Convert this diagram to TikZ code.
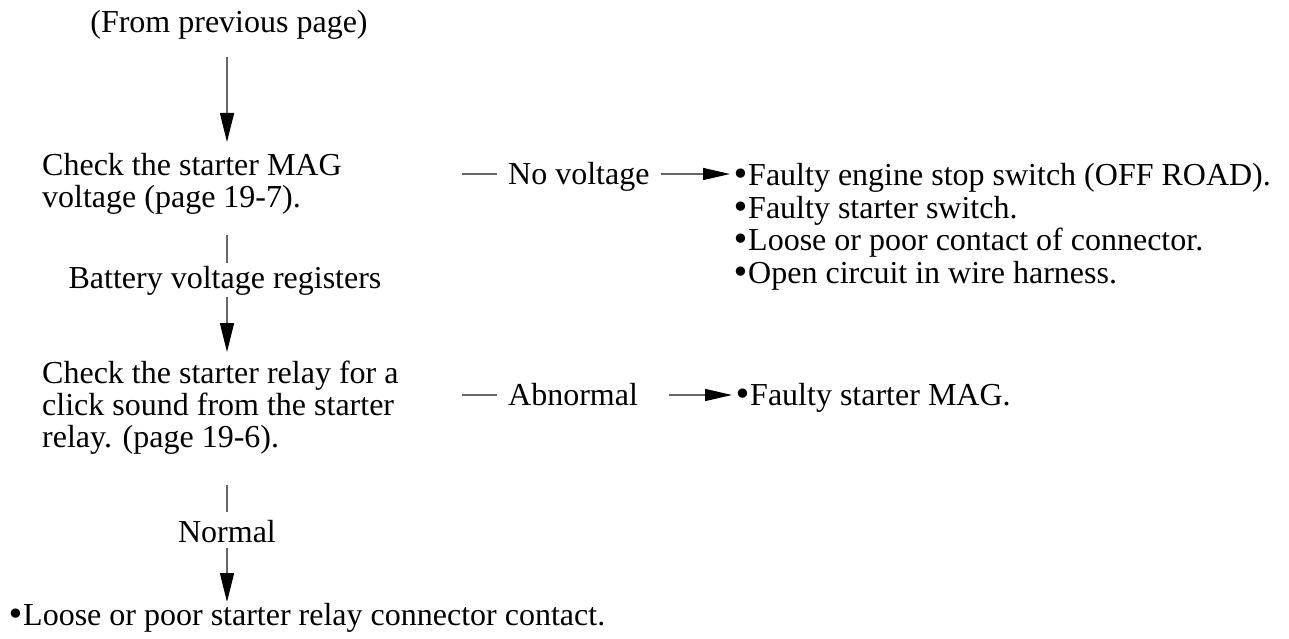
\documentclass[tikz,border=0pt]{standalone}
\usepackage{fontspec}
\setmainfont{Liberation Serif}
\newfontfamily\bulfont{DejaVu Sans}
\usetikzlibrary{arrows.meta}
\newcommand\bul{{\bulfont\kern-0.05em•\kern-0.07em}}
\begin{document}
\begin{tikzpicture}[x=1pt,y=-1pt,
  txt/.style={inner sep=0pt, font=\fontsize{32}{32}\selectfont, align=left},
  lst/.style={inner sep=0pt, font=\fontsize{32}{32.5}\selectfont, align=left},
  ln/.style={draw=black!60, line width=1.3pt},
  varr/.style={ln, -{Triangle[length=29pt,width=14pt,black]}},
  harr/.style={ln, -{Triangle[length=27pt,width=12pt,black]}}]
\useasboundingbox (0,0) rectangle (1289,639);
% texts (base anchor = baseline of the last line)
\node[txt,anchor=base] (from) at (229,33) {(From previous page)};
\node[txt,anchor=base west] (check1) at (42,207) {Check the starter MAG\\voltage (page 19-7).};
\node[txt,anchor=base west] (novolt) at (508,184) {No voltage};
\node[lst,anchor=base west] (list1) at (733,283) {\bul Faulty engine stop switch (OFF ROAD).\\\bul Faulty starter switch.\\\bul Loose or poor contact of connector.\\\bul Open circuit in wire harness.};
\node[txt,anchor=base] (batt) at (225,288) {Battery voltage registers};
\node[txt,anchor=base west] (check2) at (42,447) {Check the starter relay for a\\click sound from the starter\\relay. (page 19-6).};
\node[txt,anchor=base west] (abn) at (508,405) {Abnormal};
\node[txt,anchor=base west] (mag) at (735,405) {\bul Faulty starter MAG.};
\node[txt,anchor=base] (normal) at (227,542) {Normal};
\node[txt,anchor=base west] (loose) at (8,625) {\bul Loose or poor starter relay connector contact.};
% connector end points
\coordinate (a1s) at (227,57);
\coordinate (a1e) at (227,142);
\coordinate (a2s) at (227,235);
\coordinate (a2m) at (227,263);
\coordinate (a2n) at (227,297);
\coordinate (a2e) at (227,352);
\coordinate (a3s) at (227,485);
\coordinate (a3m) at (227,512);
\coordinate (a3n) at (227,548);
\coordinate (a3e) at (227,602);
\coordinate (n1s) at (462,174);
\coordinate (n1m) at (497,174);
\coordinate (n1n) at (661,174);
\coordinate (n1e) at (730,174);
\coordinate (b1s) at (462,395);
\coordinate (b1m) at (497,395);
\coordinate (b1n) at (669,395);
\coordinate (b1e) at (732,395);
% connectors
\draw[varr] (a1s) -- (a1e);
\draw[ln] (a2s) -- (a2m);
\draw[varr] (a2n) -- (a2e);
\draw[ln] (a3s) -- (a3m);
\draw[varr] (a3n) -- (a3e);
\draw[ln] (n1s) -- (n1m);
\draw[harr] (n1n) -- (n1e);
\draw[ln] (b1s) -- (b1m);
\draw[harr] (b1n) -- (b1e);
\end{tikzpicture}
\end{document}
